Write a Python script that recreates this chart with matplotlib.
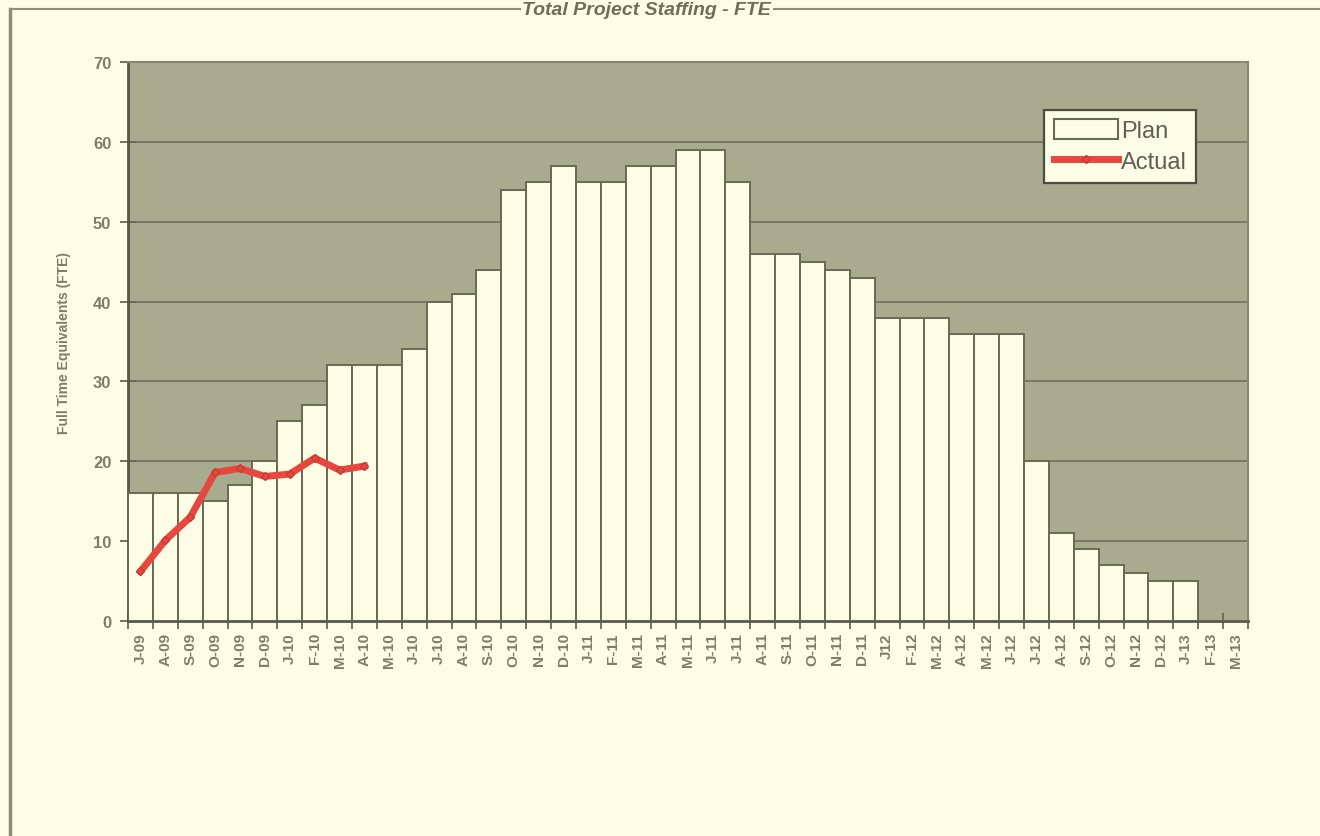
import numpy as np
import matplotlib as mpl
mpl.use("Agg")
import matplotlib.pyplot as plt
from matplotlib.lines import Line2D

# Monthly labels, Jun-09 .. Mar-13
months = ["J-09", "A-09", "S-09", "O-09", "N-09", "D-09",
          "J-10", "F-10", "M-10", "A-10", "M-10", "J-10", "J-10", "A-10", "S-10", "O-10", "N-10", "D-10",
          "J-11", "F-11", "M-11", "A-11", "M-11", "J-11", "J-11", "A-11", "S-11", "O-11", "N-11", "D-11",
          "J12", "F-12", "M-12", "A-12", "M-12", "J-12", "J-12", "A-12", "S-12", "O-12", "N-12", "D-12",
          "J-13", "F-13", "M-13"]

plan = [16, 16, 16, 15, 17, 20,
        25, 27, 32, 32, 32, 34, 40, 41, 44, 54, 55, 57,
        55, 55, 57, 57, 59, 59, 55, 46, 46, 45, 44, 43,
        38, 38, 38, 36, 36, 36, 20, 11, 9, 7, 6, 5,
        5, 0, 0]

actual = [6.2, 10.1, 13.0, 18.6, 19.1, 18.1, 18.4, 20.4, 18.9, 19.4]

fig_bg = "#fcfde6"
plot_bg = "#a8ab8e"
edge = "#676a54"
txt = "#7b7e68"

plt.rcParams["font.family"] = ["Liberation Sans", "DejaVu Sans"]

fig = plt.figure(figsize=(13.2, 8.37), dpi=100, facecolor=fig_bg)
ax = fig.add_axes([128 / 1320, 1 - 622 / 837, 1120 / 1320, 559 / 837])
ax.set_facecolor(plot_bg)

x = np.arange(len(months))
ax.bar(x, plan, width=1.0, color="#fcfde4", edgecolor=edge, linewidth=1.4, zorder=3)
ax.plot(x[:len(actual)], actual, color="#e6473e", lw=5, marker="D", ms=4,
        mfc="#e6473e", mec="#c83a32", zorder=5, solid_joinstyle="round")

ax.set_xlim(-0.5, len(months) - 0.5)
ax.set_ylim(0, 70)
ax.set_yticks(range(0, 71, 10))
ax.yaxis.grid(True, color="#6f725c", lw=1.2, zorder=1)
ax.set_axisbelow(True)

ax.set_xticks(np.arange(len(months) + 1) - 0.5)
ax.set_xticklabels([])
ax.set_xticks(x, minor=True)
ax.set_xticklabels(months, minor=True, rotation=90, fontsize=11, color=txt, fontweight="bold")
ax.tick_params(axis="x", which="major", direction="inout", length=12, width=1.3, color=edge)
ax.tick_params(axis="x", which="minor", length=0, pad=8)
ax.tick_params(axis="y", direction="inout", length=12, width=1.3, color=edge,
               labelsize=12, labelcolor=txt, pad=6)
for lab in ax.get_yticklabels():
    lab.set_fontweight("bold")

for side in ["top", "right"]:
    ax.spines[side].set_color("#858870")
    ax.spines[side].set_linewidth(1.5)
for side in ["left", "bottom"]:
    ax.spines[side].set_color("#55584a")
    ax.spines[side].set_linewidth(2)

ax.set_ylabel("Full Time Equivalents (FTE)", fontsize=10, fontweight="bold", color=txt,
              labelpad=16, family=["Liberation Sans Narrow", "Liberation Sans", "DejaVu Sans"])

handles = [mpl.patches.Patch(facecolor="#fcfde4", edgecolor=edge, linewidth=1.5, label="Plan"),
           Line2D([0], [0], color="#e6473e", lw=5, marker="D", ms=4, mec="#c83a32", label="Actual")]
leg = ax.legend(handles=handles, loc="upper right", bbox_to_anchor=(0.9645, 0.936),
                fontsize=17, frameon=True, fancybox=False, handlelength=2.7, handleheight=0.9,
                handletextpad=0.15, borderpad=0.4, labelspacing=0.35)
leg.get_frame().set_facecolor("#fcfde6")
leg.get_frame().set_edgecolor("#4a4c3e")
leg.get_frame().set_linewidth(1.6)
leg.get_frame().set_alpha(1)
for t in leg.get_texts():
    t.set_color("#5e6150")

# page frame and title at the top edge
fig.add_artist(Line2D([10 / 1320, 1], [1 - 10 / 837] * 2, color="#8c8f78", lw=1.5))
fig.add_artist(Line2D([10 / 1320] * 2, [0, 1 - 10 / 837], color="#8c8f78", lw=2.5))
fig.text(0.49, 1 - 2 / 837, "Total Project Staffing - FTE", ha="center", va="top",
         fontsize=14, fontweight="bold", fontstyle="italic", color="#6b6e5a",
         bbox=dict(facecolor=fig_bg, edgecolor="none", pad=1))

fig.savefig("out.png", dpi=100, facecolor=fig_bg)
